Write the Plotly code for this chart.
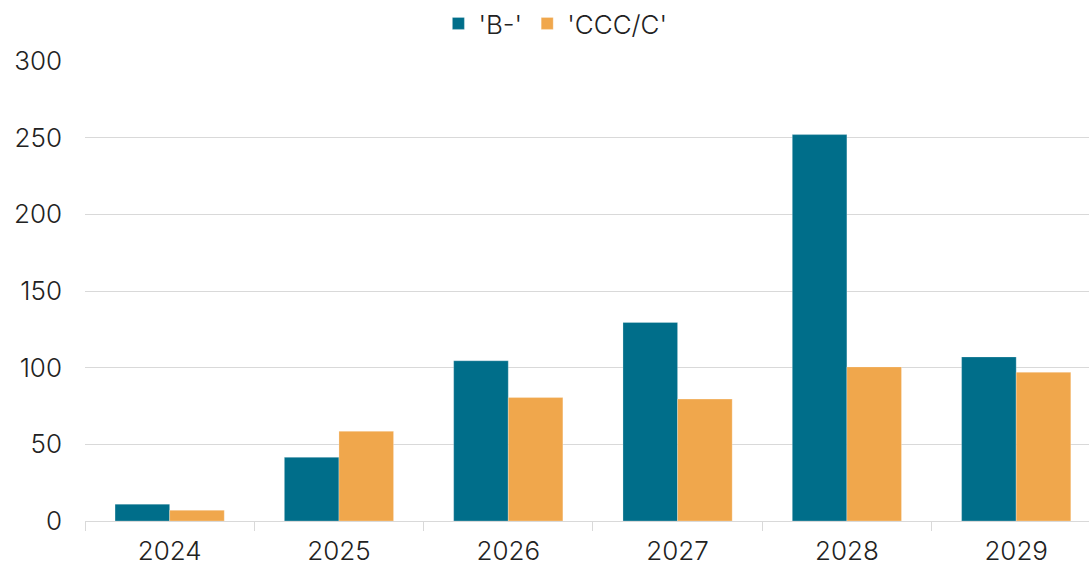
import plotly.graph_objects as go

years = ["2024", "2025", "2026", "2027", "2028", "2029"]
b_minus = [11, 41.5, 104.5, 129.5, 252, 107]
ccc_c = [7, 58.5, 80.5, 79.5, 100.5, 97]
y_ticks = [0, 50, 100, 150, 200, 250, 300]

FONT = "Inter"
FS = 26
fig = go.Figure()
fig.add_trace(go.Bar(name="'B-'", x=years, y=b_minus, marker=dict(color="#006E8A", line=dict(color="rgba(255,255,255,0.5)", width=0.5))))
fig.add_trace(go.Bar(name="'CCC/C'", x=years, y=ccc_c, marker=dict(color="#F0A74C", line=dict(color="rgba(255,255,255,0.5)", width=0.5))))

fig.update_layout(
    width=1089, height=567,
    margin=dict(l=85, r=0, t=61, b=46, autoexpand=False),
    paper_bgcolor="white", plot_bgcolor="white",
    barmode="group", bargap=0.355, bargroupgap=0,
    font=dict(family=FONT, size=FS, color="#222222", weight=300),
    legend=dict(orientation="h", x=0.51, xanchor="center", xref="container", y=1.0, yanchor="top", yref="container",
                font=dict(size=FS, family=FONT, weight=300), itemwidth=30, traceorder="normal"),
    showlegend=True,
)
fig.update_xaxes(type="category", range=[-0.5, 5.43], showline=True, linecolor="#d9d9d9", linewidth=1,
                 ticks="outside", tickson="boundaries", ticklen=9, tickcolor="#d9d9d9", showgrid=False,
                 ticklabelstandoff=7,
                 tickfont=dict(size=FS, family=FONT, weight=300, color="#222222"))
fig.update_yaxes(range=[0, 300], tickvals=y_ticks, showgrid=True, gridcolor="#d9d9d9", gridwidth=1,
                 zeroline=False, ticklabelstandoff=22,
                 tickfont=dict(size=FS, family=FONT, weight=300, color="#222222"))
fig.write_html("out.html")
